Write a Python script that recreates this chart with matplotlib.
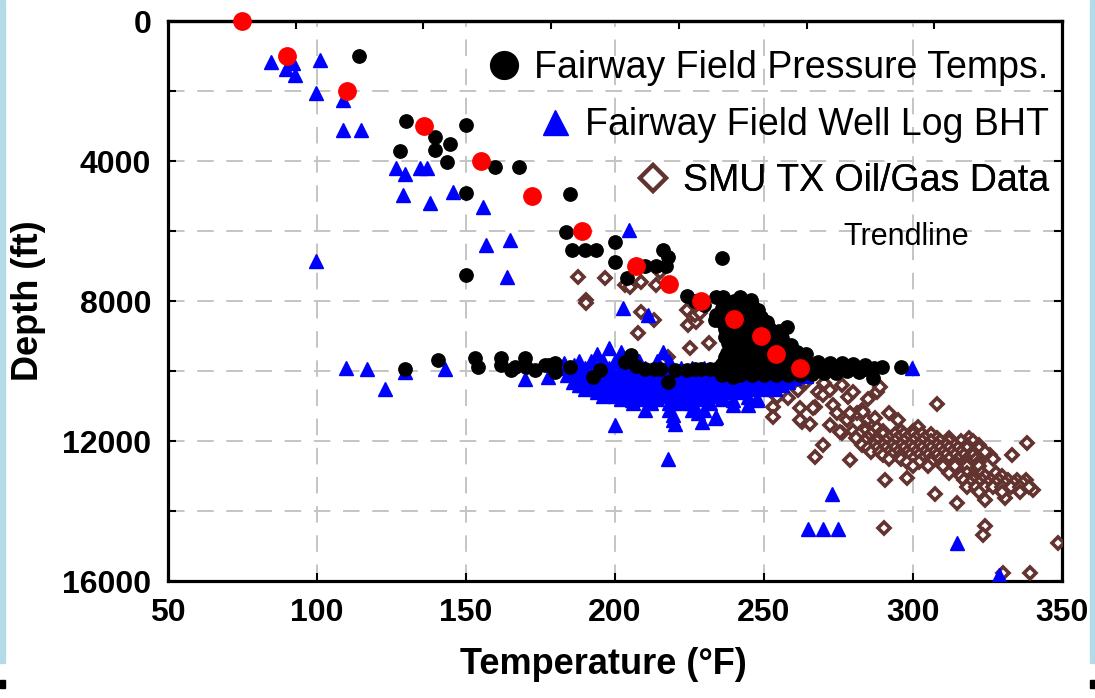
import matplotlib
matplotlib.use("Agg")
import matplotlib.pyplot as plt
import numpy as np
from matplotlib.lines import Line2D
from matplotlib.patches import Rectangle

plt.rcParams['font.family'] = ['Liberation Sans', 'DejaVu Sans']

# === Data (temperature degF, depth ft) ===
trend_temp = [75, 90, 110, 136, 155, 172, 189, 207, 218, 229, 240, 249, 254, 262]
trend_depth = [0, 1000, 2000, 3000, 4000, 5000, 6000, 7000, 7500, 8000, 8500, 9000, 9500, 9900]

pressure_pts = [
    (114, 990), (130, 2860), (128, 3700), (139.5, 3300), (139.7, 3690), (144.7, 3520),
    (143.7, 4020), (150, 2970), (150, 4920), (150, 7260), (159.6, 4160), (167.7, 4160),
    (184.8, 4950), (183.7, 6020), (185.7, 6540), (189.8, 6540), (193.7, 6540), (199.9, 6300),
    (199.9, 6880), (204.1, 7350), (210, 7000), (213.9, 7000), (217.2, 7000), (216, 6540),
    (217.8, 6750), (236, 6780), (224, 7860), (234, 7880), (236.2, 7880), (241.8, 7880),
    (245.7, 7970), (227, 8000), (230, 8100),
    # horizontal band near 10000 ft
    (129.5, 9950), (140.7, 9690), (152.9, 9640), (154, 9880), (161.9, 9640), (161.9, 9830),
    (165.2, 9970), (166.3, 9880), (169.7, 9640), (170.2, 9880), (173, 9970), (176.4, 9830),
    (178, 9830), (179.7, 10020), (179.7, 9780), (184.8, 9880), (192.6, 10160), (194.9, 9970),
    (203.3, 9730), (205.5, 9540), (207, 9850), (210, 9930), (213, 9930), (215, 9930),
    (217.8, 10300), (220, 9970), (224, 9970), (227, 9950), (229, 9930), (232, 9950),
    (234, 9930), (239, 9930), (243.5, 9930), (248, 9930), (252, 9900), (256, 9950),
    (260, 9900), (264, 9950), (268, 9900), (272, 9920), (276, 9880), (280, 9900),
    (284, 9950), (287, 9900), (286.7, 10210), (289.5, 9895), (295.9, 9895), (239.7, 10160),
    (236, 10100), (242, 10100), (246, 10120), (250, 10100), (254, 10120), (258, 10100),
    (262, 10100), (266, 10080), (270, 10060), (274, 10050), (278, 10000), (282, 10020),
    (252, 9700), (256, 9720), (260, 9700), (264, 9720), (268, 9740), (272, 9760),
    (276, 9780), (280, 9800), (284, 9820),
    # blob 8000-9800 ft
    (240, 8000), (243, 8000), (246, 8100), (236, 8200), (239, 8200), (242, 8200), (245, 8200),
    (248, 8250), (234, 8400), (237, 8400), (240, 8400), (243, 8400), (246, 8400), (249, 8450),
    (233.6, 8540), (236, 8600), (239, 8600), (242, 8600), (245, 8600), (248, 8600), (251, 8600),
    (257.8, 8730), (237, 8800), (240, 8800), (243, 8800), (246, 8800), (249, 8800), (252, 8800),
    (255, 8850), (237, 9020), (241, 9000), (244, 9000), (247, 9000), (250, 9000), (253, 9000),
    (256, 9050), (238, 9200), (241, 9200), (244, 9200), (247, 9200), (250, 9200), (253, 9200),
    (256, 9200), (259, 9250), (237.5, 9490), (240, 9400), (243, 9400), (246, 9400), (249, 9400),
    (252, 9400), (255, 9400), (258, 9400), (261, 9450), (264, 9500), (236.8, 9590), (240, 9600),
    (243, 9600), (246, 9600), (249, 9600), (236, 9800), (240, 9800), (244, 9800), (248, 9800),
]

bht_pts = [
    (84.7, 1160), (89.7, 1380), (92, 1210), (92.7, 1540), (100.9, 1110), (99.8, 2070),
    (108.7, 2260), (108.7, 3110), (114.7, 3110), (126.6, 4190), (129.6, 4380), (134.4, 4210),
    (137, 4210), (128.9, 4970), (137.8, 5210), (145.6, 4880), (99.8, 6860), (155.7, 5300),
    (156.8, 6400), (164.7, 6260), (163.9, 7300), (204.7, 5970), (109.8, 9920), (116.9, 9950),
    (122.7, 10520), (129.6, 10020), (142.8, 9940), (169.8, 10240), (200, 11540), (217.9, 12500),
    (202.7, 8210), (211, 8400), (299.5, 9920), (253.7, 10500), (272.7, 13500), (264.9, 14520),
    (269.9, 14520), (274.7, 14520), (314.9, 14920), (329, 15830), (189.4, 10400), (193.7, 10500),
    (177.5, 10160), (183, 9780), (186.4, 9830),
    (205.6, 10830), (211.7, 10830), (219.6, 11260), (219.6, 11400), (228, 11210), (229.1, 11450),
    (233.6, 11350), (239.7, 10970), (244.7, 10970), (247.5, 10830), (244.7, 10730), (247.5, 10780),
    (239.7, 10830), (220, 11500), (234, 11300),
    # dense band
    (194, 9500), (198, 9350), (202, 9450), (216, 9450),
    (188, 9700), (192, 9700), (196, 9700), (200, 9700), (204, 9700), (208, 9700), (214, 9700), (218, 9700),
    (182, 9900), (186, 9900), (190, 9900), (194, 9900), (198, 9900), (202, 9900), (206, 9900),
    (210, 9900), (214, 9900), (218, 9900), (222, 9900), (226, 9900), (230, 9900), (234, 9900),
    (238, 9900), (242, 9900), (246, 9900), (250, 9900), (254, 9900), (258, 9900), (262, 9900),
    (186, 10000), (190, 10000), (194, 10000), (198, 10000), (202, 10000), (206, 10000),
    (210, 10000), (214, 10000), (218, 10000), (222, 10000), (226, 10000), (230, 10000),
    (234, 10000), (238, 10000), (242, 10000), (246, 10000), (250, 10000), (254, 10000),
    (258, 10000), (262, 10000),
    (184, 10100), (188, 10100), (192, 10100), (196, 10100), (200, 10100), (204, 10100),
    (208, 10100), (212, 10100), (216, 10100), (220, 10100), (224, 10100), (228, 10100),
    (232, 10100), (236, 10150), (240, 10200), (244, 10200), (248, 10200), (252, 10200),
    (256, 10200), (260, 10200), (264, 10150),
    (188, 10200), (192, 10200), (196, 10200), (200, 10200), (204, 10200), (208, 10200),
    (212, 10200), (216, 10200), (220, 10200), (224, 10200), (228, 10200), (232, 10200),
    (186, 10300), (190, 10300), (194, 10300), (198, 10300), (202, 10300), (206, 10300),
    (210, 10300), (214, 10300), (218, 10300), (222, 10300), (226, 10300), (230, 10300),
    (234, 10300), (238, 10300), (242, 10300), (246, 10300), (250, 10300), (254, 10300), (258, 10300),
    (188, 10400), (192, 10400), (196, 10400), (200, 10400), (204, 10400), (208, 10400),
    (212, 10400), (216, 10400), (220, 10400), (224, 10400), (228, 10400), (232, 10400),
    (236, 10400), (240, 10400), (244, 10400), (248, 10400), (252, 10400), (256, 10400),
    (190, 10500), (194, 10500), (198, 10500), (202, 10500), (206, 10500), (210, 10500),
    (214, 10500), (218, 10500), (222, 10500), (226, 10500), (230, 10500), (234, 10500),
    (238, 10500), (242, 10500), (246, 10500), (250, 10500),
    (194, 10600), (198, 10600), (202, 10600), (206, 10600), (210, 10600), (214, 10600),
    (218, 10600), (222, 10600), (226, 10600), (230, 10600), (234, 10600), (238, 10600), (242, 10600),
    (196, 10700), (200, 10700), (204, 10700), (208, 10700), (212, 10700), (216, 10700),
    (220, 10700), (224, 10700), (228, 10700), (232, 10700), (236, 10700),
    (202, 10800), (208, 10800), (214, 10800), (220, 10800), (226, 10800), (230, 10800), (236, 10800),
    (206, 10900), (212, 10900), (218, 10900), (222, 10900), (226, 10900), (232, 10900),
    (210, 11100), (218, 11100), (226, 11100), (230, 11100),
]

smu_pts = [
    (187.6, 7300), (196.5, 7350), (190.4, 7970), (190.4, 8070), (203.3, 7540), (205, 7590),
    (208.8, 7450), (213.9, 7540), (215, 7160), (208.8, 8300), (213.2, 8540), (207.7, 8920),
    (224.5, 8690), (227.3, 8590), (226.7, 8400), (228.4, 8350), (225, 9350), (231.7, 9210),
    (217.8, 9590), (239, 8110), (224, 8250),
    (251.4, 10450), (253.1, 11020), (253.1, 11300), (255.9, 10640), (258.1, 10780), (261.5, 10540),
    (262.1, 11070), (262.6, 11450), (265.4, 11500), (267.1, 11020), (268.2, 10590), (269.9, 10690),
    (272.1, 10540), (273.3, 10970), (274.4, 11210), (276.1, 11780), (278.3, 10730), (277.8, 11400),
    (281.1, 11210), (282.8, 11110), (284.5, 11400), (287.2, 11350), (287.8, 11640), (287.8, 10590),
    (289, 10450), (250.9, 10450), (254.2, 10730), (262.1, 11400), (266.5, 11070), (272.1, 11540),
    (275.5, 11730), (278.9, 11210), (283.3, 11160), (283.9, 11640), (248, 10200), (257, 10350),
    (264, 10300), (270, 10350), (276, 10400), (280, 10600), (285, 10800), (292, 11200), (295, 11400),
    (267.1, 12450), (269.9, 12110), (278.9, 12540), (290.6, 13100), (297.9, 13070), (307.4, 13500),
    (314.7, 13780), (324.2, 13690), (330.9, 13640), (308.2, 10940), (290.4, 14480), (324.2, 14430),
    (323.6, 14690), (348.8, 14920), (330.3, 15780), (339.3, 15780), (338.1, 12070), (333.1, 12400),
    (318.9, 11920), (325.8, 12400), (301.8, 11590), (340.4, 13400),
    # dense core
    (280, 11700), (284, 11700), (290, 11700), (296, 11700), (300, 11700),
    (282, 11800), (286, 11800), (290, 11800), (294, 11800), (297, 11800), (300, 11800),
    (303, 11800), (306, 11800),
    (281, 11900), (285, 11900), (288, 11900), (292, 11900), (295, 11900), (298, 11900),
    (301, 11900), (304, 11900), (308, 11900), (312, 11900),
    (284, 12000), (288, 12000), (291, 12000), (294, 12000), (297, 12000), (300, 12000),
    (303, 12000), (306, 12000), (309, 12000), (312, 12000), (316, 12000), (320, 12000),
    (283, 12100), (287, 12100), (290, 12100), (293, 12100), (296, 12100), (299, 12100),
    (302, 12100), (305, 12100), (308, 12100), (311, 12100), (314, 12100), (318, 12100), (322, 12100),
    (285, 12200), (288, 12200), (291, 12200), (294, 12200), (297, 12200), (300, 12200),
    (303, 12200), (306, 12200), (309, 12200), (312, 12200), (315, 12200), (318, 12200), (322, 12200),
    (286, 12300), (289, 12300), (292, 12300), (295, 12300), (298, 12300), (301, 12300),
    (304, 12300), (307, 12300), (310, 12300), (313, 12300), (316, 12300), (320, 12300), (324, 12300),
    (290, 12400), (293, 12400), (296, 12400), (299, 12400), (302, 12400), (305, 12400),
    (308, 12400), (311, 12400), (314, 12400), (317, 12400), (320, 12400),
    (292, 12500), (296, 12500), (300, 12500), (303, 12500), (306, 12500), (309, 12500),
    (312, 12500), (315, 12500), (318, 12500), (321, 12500), (327, 12500),
    (298, 12600), (302, 12600), (306, 12600), (310, 12600), (314, 12600), (318, 12600), (322, 12600),
    (300, 12700), (305, 12700), (310, 12700), (314, 12700), (318, 12700), (322, 12700),
    (312, 12900), (318, 12900), (323, 12900), (328, 12900),
    (316, 13000), (320, 13000), (324, 13000), (330, 13000),
    (317, 13100), (320, 13100), (323, 13100), (326, 13100), (329, 13100), (332, 13100),
    (335, 13100), (338, 13100),
    (319, 13200), (322, 13200), (325, 13200), (328, 13200), (331, 13200), (334, 13200), (337, 13200),
    (318, 13300), (321, 13300), (324, 13300), (327, 13300), (330, 13300), (333, 13300),
    (336, 13300), (339, 13300), (322, 13450), (330, 13450), (336, 13450),
]

legend_labels = ['Fairway Field Pressure Temps.', 'Fairway Field Well Log BHT', 'SMU TX Oil/Gas Data']

pressure = np.array(pressure_pts)
bht = np.array(bht_pts)
smu = np.array(smu_pts)

black = 'black'
blue = '#0000ff'
brown = '#633330'

fig = plt.figure(figsize=(10.95, 6.98), dpi=100)
ax = fig.add_axes([0.1534, 0.1676, 0.8165, 0.8023])

ax.plot(smu[:, 0], smu[:, 1], ls='none', marker='D', ms=6.5, mfc='white', mec=brown, mew=2.6, zorder=3)
ax.plot(bht[:, 0], bht[:, 1], ls='none', marker='^', ms=9.5, color=blue, mec=blue, zorder=4)
ax.plot(pressure[:, 0], pressure[:, 1], ls='none', marker='o', ms=9.6, color=black, zorder=5)
ax.plot(trend_temp, trend_depth, ls='none', marker='o', ms=12.5, color='red', zorder=6, clip_on=False)

ax.set_xlim(50, 350)
ax.set_ylim(16000, 0)
ax.set_xticks(np.arange(50, 351, 50))
ax.set_yticks(np.arange(0, 16001, 2000))
ax.set_xticklabels([str(v) for v in range(50, 351, 50)], fontweight='bold')
ax.set_yticklabels([str(v) if v % 4000 == 0 else '' for v in range(0, 16001, 2000)],
                   fontweight='bold')
ax.tick_params(direction='in', length=6, width=1.5, right=True, labelsize=23)
ax.tick_params(axis='x', pad=12)
ax.tick_params(axis='y', pad=12)
ax.grid(True, ls=(0, (8.5, 6.5)), color='#c4c4c4', lw=1.4)
ax.set_axisbelow(True)
for s in ax.spines.values():
    s.set_linewidth(2.3)

# top ticks
sec = ax.secondary_xaxis('top')
sec.set_xticks([50 + 300 * k / 7 for k in range(1, 7)])
sec.tick_params(direction='in', length=6, width=1.5, labeltop=False)
sec.spines['top'].set_linewidth(2.3)

ax.set_xlabel('Temperature (°F)', fontsize=26, fontweight='bold')
ax.xaxis.set_label_coords(0.487, -0.118)
ax.set_ylabel('Depth (ft)', fontsize=26, fontweight='bold', labelpad=12)

# legend entries, each right aligned
handles = [
    Line2D([], [], ls='none', marker='o', ms=20, color=black),
    Line2D([], [], ls='none', marker='^', ms=18, color=blue),
    Line2D([], [], ls='none', marker='D', ms=13, mfc='white', mec=brown, mew=3),
]
ys = [0.916, 0.814, 0.714]
for h, lab, y in zip(handles, legend_labels, ys):
    leg = ax.legend([h], [lab], loc='center right', bbox_to_anchor=(0.985, y),
                    frameon=False, fontsize=27, handletextpad=0.3, handlelength=1.0,
                    borderpad=0, borderaxespad=0)
    ax.add_artist(leg)
ax.text(0.8255, 0.614, 'Trendline', transform=ax.transAxes, fontsize=22,
        ha='center', va='center')

# slide edges
edge = '#b3dce8'
fig.patches.append(Rectangle((0, 0.05), 0.0046, 0.95, transform=fig.transFigure, color=edge))
fig.patches.append(Rectangle((0.9954, 0.05), 0.0046, 0.95, transform=fig.transFigure, color=edge))
fig.patches.append(Rectangle((0, 0.0143), 0.0046, 0.0115, transform=fig.transFigure, color='black'))
fig.patches.append(Rectangle((0.9954, 0.0143), 0.0046, 0.0115, transform=fig.transFigure, color='black'))

fig.savefig('out.png', dpi=100)
